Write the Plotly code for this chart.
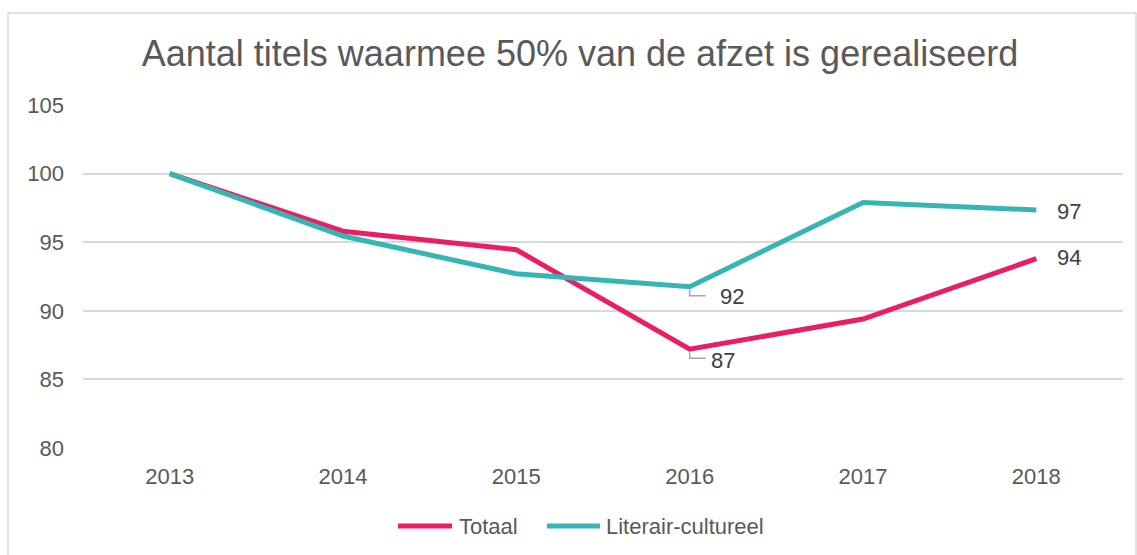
import plotly.graph_objects as go

years = ["2013", "2014", "2015", "2016", "2017", "2018"]
totaal = [100.0, 95.8, 94.45, 87.2, 89.4, 93.8]
literair = [100.0, 95.45, 92.7, 91.75, 97.9, 97.35]
series_names = ["Totaal", "Literair-cultureel"]
colors = ["#E91E63", "#35B6B3"]
y_ticks = [80, 85, 90, 95, 100, 105]
title = "Aantal titels waarmee 50% van de afzet is gerealiseerd"

W, H = 1137, 555
ML, MR, MT, MB = 83, 14, 105, 107
pw, ph = W - ML - MR, H - MT - MB
Y0, Y1 = 80, 105
px_x = pw / len(years)          # pixels per category
px_y = ph / (Y1 - Y0)           # pixels per unit
FONT = "Liberation Sans, Arial, sans-serif"
GREY = "#595959"

fig = go.Figure()
for name, vals, col in zip(series_names, [totaal, literair], colors):
    fig.add_trace(go.Scatter(x=list(range(len(years))), y=vals, name=name, mode="lines",
                             line=dict(color=col, width=5, shape="linear"),
                             hoverinfo="y+name", showlegend=False))

# data labels: (series values, index, xshift, yshift, leader)
labels = [
    (literair, 3, 42, -10, True),
    (totaal, 3, 33, -11, True),
    (literair, 5, 33, -2, False),
    (totaal, 5, 33, 1, False),
]
for vals, i, dx, dy, leader in labels:
    fig.add_annotation(x=i, y=vals[i], text=str(round(vals[i])),
                       showarrow=False, xshift=dx, yshift=dy,
                       font=dict(family=FONT, size=22, color="#404040"))
    if leader:
        lx = [i, i, i + 16 / px_x]
        ly = [vals[i] - 3 / px_y, vals[i] - 9 / px_y, vals[i] - 9 / px_y]
        fig.add_trace(go.Scatter(x=lx, y=ly, mode="lines", showlegend=False,
                                 hoverinfo="skip",
                                 line=dict(color="#A6A6A6", width=1.5)))

# legend drawn as line samples + labels (paper coordinates)
def px2paper_x(p):
    return (p - ML) / pw

def px2paper_y(p):
    return (H - MB - p) / ph

leg_y = px2paper_y(526)
leg_items = [(398, 452, 457), (547, 600, 604)]
for (lx0, lx1, tx), name, col in zip(leg_items, series_names, colors):
    fig.add_shape(type="line", xref="paper", yref="paper",
                  x0=px2paper_x(lx0), x1=px2paper_x(lx1), y0=leg_y, y1=leg_y,
                  line=dict(color=col, width=5))
    fig.add_annotation(xref="paper", yref="paper", x=px2paper_x(tx), y=leg_y,
                       text=name, showarrow=False, xanchor="left", yanchor="middle",
                       font=dict(family=FONT, size=22, color=GREY))

# outer chart border
fig.add_shape(type="rect", xref="paper", yref="paper",
              x0=px2paper_x(8), x1=px2paper_x(1136),
              y0=px2paper_y(560), y1=px2paper_y(13),
              line=dict(color="#D9D9D9", width=1.5), fillcolor="rgba(0,0,0,0)",
              layer="below")

fig.update_layout(
    width=W, height=H,
    margin=dict(l=ML, r=MR, t=MT, b=MB),
    paper_bgcolor="white", plot_bgcolor="white",
    title=dict(text=title, x=580 / W, xanchor="center",
               y=1 - 53 / H, yanchor="middle",
               font=dict(family=FONT, size=36, color=GREY)),
    font=dict(family=FONT, size=22, color=GREY),
    showlegend=False,
    xaxis=dict(tickmode="array", tickvals=list(range(len(years))), ticktext=years,
               showgrid=False, showline=False, zeroline=False,
               ticks="", tickfont=dict(size=22, color=GREY), ticklabelstandoff=13,
               range=[-0.5, len(years) - 0.5]),
    yaxis=dict(range=[Y0, Y1], tickvals=y_ticks, showgrid=True,
               gridcolor="#D9D9D9", gridwidth=1.5, zeroline=False, showline=False,
               ticks="", tickfont=dict(size=22, color=GREY), ticklabelstandoff=18),
)

fig.write_html("out.html", config={"displayModeBar": False},
               post_script="document.body.style.margin='0';document.body.style.overflow='hidden';")
